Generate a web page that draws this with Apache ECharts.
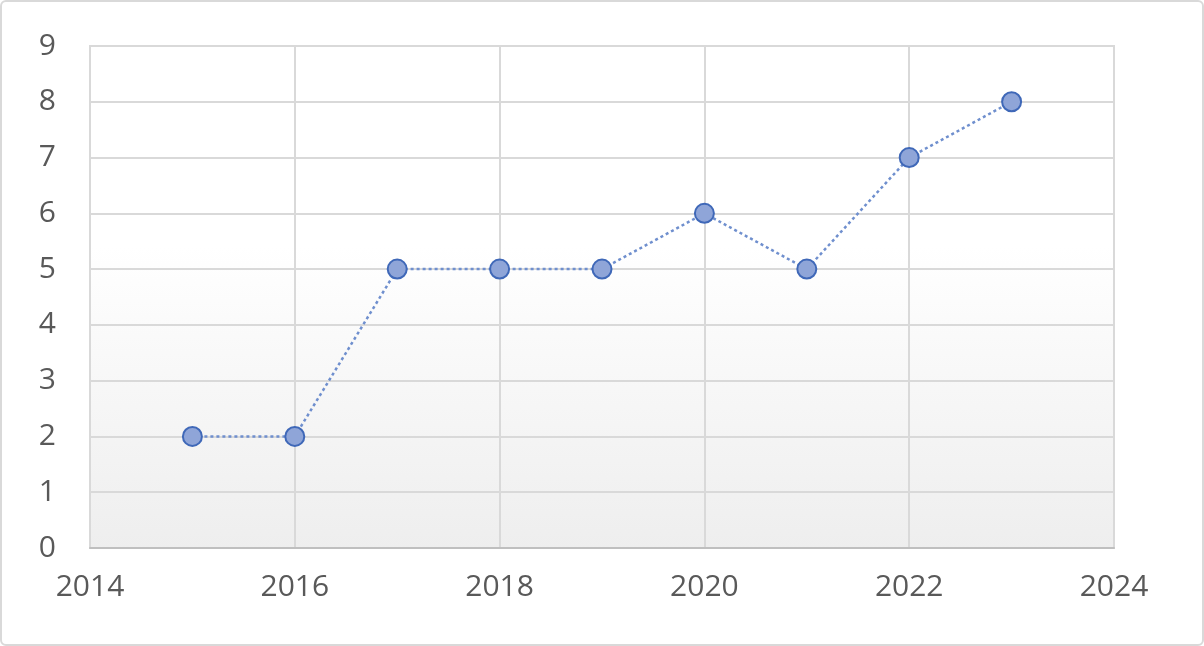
<!DOCTYPE html>
<html><head><meta charset="utf-8">
<script src="https://cdn.jsdelivr.net/npm/echarts@6/dist/echarts.min.js"></script>
<style>html,body{margin:0;padding:0;background:#fff}
#c{width:1200px;height:642px;border:2px solid #d9d9d9;border-radius:6px;box-sizing:content-box}</style>
</head><body><div id="c"></div>
<script>
const years = [2015, 2016, 2017, 2018, 2019, 2020, 2021, 2022, 2023];
const values = [2, 2, 5, 5, 5, 6, 5, 7, 8];
const chart = echarts.init(document.getElementById('c'));
const font = {color:'#595959', fontSize:30, fontFamily:'Open Sans, Liberation Sans, sans-serif'};
chart.setOption({
  animation:false,
  grid:{left:88,right:88,top:44,bottom:96,show:true,borderColor:'#d9d9d9',borderWidth:2,
    backgroundColor:{type:'linear',x:0,y:0,x2:0,y2:1,colorStops:[{offset:0,color:'#ffffff'},{offset:0.4,color:'#ffffff'},{offset:1,color:'#eeeeee'}]}},
  xAxis:{type:'value',min:2014,max:2024,interval:2,
    axisLine:{show:true,onZero:false,lineStyle:{color:'#bfbfbf',width:2}},axisTick:{show:false},
    splitLine:{show:true,lineStyle:{color:'#d9d9d9',width:2}},
    axisLabel:Object.assign({margin:24,formatter:v=>String(v)},font)},
  yAxis:{type:'value',min:0,max:9,interval:1,
    axisLine:{show:false},axisTick:{show:false},
    splitLine:{show:true,lineStyle:{color:'#d9d9d9',width:2}},
    axisLabel:Object.assign({margin:34},font)},
  series:[{type:'line',data:years.map((y,i)=>[y,values[i]]),
    symbol:'circle',symbolSize:19,
    lineStyle:{color:'#6f8fce',width:2.5,type:[3,3]},
    itemStyle:{color:'#8fa5d8',borderColor:'#3f68b8',borderWidth:2}}]
});
</script></body></html>
